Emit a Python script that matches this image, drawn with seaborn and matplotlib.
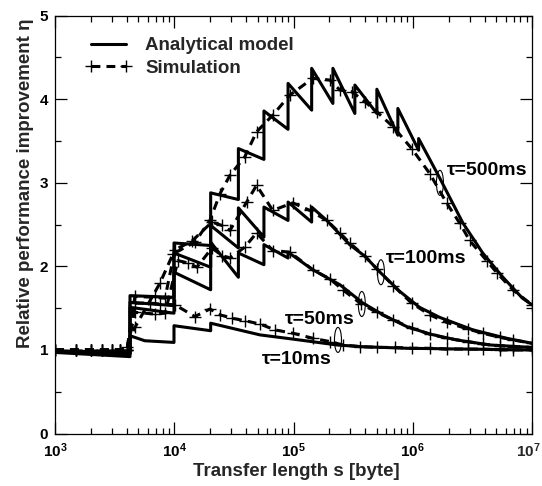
import matplotlib
matplotlib.use("Agg")
import matplotlib.pyplot as plt
import matplotlib.ticker as mticker
from matplotlib.lines import Line2D
from matplotlib.patches import Ellipse
from matplotlib.transforms import ScaledTranslation
import seaborn as sns

# ---------------- data ----------------
# Analytical model (solid sawtooth curves); repeated s = vertical jump
a10_s = [1000, 4255, 4255, 5660, 9950, 9950, 20200, 20200, 52400, 98600, 230000, 361000, 889000, 1e7]
a10_eta = [0.99, 0.97, 1.17, 1.11, 1.09, 1.29, 1.23, 1.32, 1.18, 1.13, 1.06, 1.04, 1.02, 1.00]

a50_s = [1000, 4255, 4255, 9950, 9950, 20200, 20200, 34500, 34500, 56500, 56500, 90000, 90000,
         145000, 245000, 383000, 564000, 889000, 1.39e6, 2.33e6, 4.4e6, 1e7]
a50_eta = [0.98, 0.96, 1.51, 1.44, 1.93, 1.72, 2.29, 1.87, 2.16, 2.02, 2.26, 2.10, 2.17,
           1.96, 1.78, 1.56, 1.42, 1.28, 1.19, 1.12, 1.06, 1.03]

a100_s = [1000, 4255, 4255, 9950, 9950, 20200, 20200, 34500, 34500, 56500, 56500, 90000, 90000,
          142000, 142000, 190000, 296000, 398000, 532000, 779000, 1.14e6, 1.68e6, 3.2e6, 6.1e6, 1e7]
a100_eta = [0.98, 0.95, 1.57, 1.53, 2.16, 1.99, 2.49, 2.22, 2.70, 2.35, 2.71, 2.55, 2.77,
            2.53, 2.71, 2.55, 2.26, 2.12, 1.93, 1.70, 1.51, 1.39, 1.24, 1.14, 1.08]

a500_s = [1000, 4255, 4255, 9950, 9950, 20200, 20200, 34500, 34500, 56500, 56500, 90000, 90000,
          142000, 142000, 214000, 214000, 327000, 327000, 500000, 500000, 750000, 750000,
          1.12e6, 1.12e6, 1.68e6, 2.63e6, 3.86e6, 5.7e6, 8.3e6, 1e7]
a500_eta = [0.97, 0.92, 1.65, 1.63, 2.28, 2.25, 2.88, 2.80, 3.41, 3.28, 3.86, 3.64, 4.19,
            3.87, 4.37, 3.95, 4.37, 3.83, 4.17, 3.83, 4.12, 3.57, 3.89,
            3.39, 3.53, 3.06, 2.52, 2.16, 1.87, 1.62, 1.54]

# Simulation (dashed with + markers)
s10_s = [1000, 1500, 2000, 2500, 3000, 3500, 4010, 4680, 6250, 7590, 10140, 14900, 19900, 24200,
         30300, 39000, 52400, 69800, 98600, 145000, 202000, 259000, 361000, 500000, 710000,
         980000, 1.39e6, 1.92e6, 2.9e6, 3.86e6, 5.4e6, 6.9e6, 1e7]
s10_eta = [1.0, 1.0, 1.0, 1.0, 1.0, 1.0, 1.0, 1.56, 1.56, 1.55, 1.54, 1.40, 1.49, 1.42,
           1.38, 1.35, 1.31, 1.24, 1.20, 1.14, 1.10, 1.06, 1.04, 1.03, 1.03,
           1.02, 1.02, 1.01, 1.01, 1.01, 1.0, 1.0, 1.0]

s50_s = [1000, 1500, 2000, 2500, 3000, 3500, 4010, 4680, 6880, 8370, 10740, 13020, 15500, 20700,
         25100, 29300, 39000, 49000, 67000, 93200, 145000, 202000, 259000, 370000, 500000,
         685000, 980000, 1.39e6, 1.92e6, 2.9e6, 3.86e6, 5.4e6, 6.9e6, 1e7]
s50_eta = [1.0, 1.0, 1.0, 1.0, 1.0, 1.0, 1.0, 1.45, 1.43, 1.44, 2.07, 2.04, 1.99, 2.22,
           2.13, 2.10, 2.23, 2.40, 2.19, 2.17, 1.96, 1.85, 1.72, 1.55, 1.45,
           1.36, 1.26, 1.19, 1.14, 1.10, 1.07, 1.05, 1.04, 1.03]

s100_s = [1000, 1500, 2000, 2500, 3000, 3500, 4010, 4680, 6880, 8370, 10140, 14000, 20700, 25100,
          29300, 40500, 49000, 67000, 98600, 137000, 190000, 245000, 296000, 398000, 500000,
          685000, 980000, 1.39e6, 1.92e6, 2.9e6, 3.86e6, 5.4e6, 6.9e6, 1e7]
s100_eta = [1.0, 1.0, 1.0, 1.0, 1.0, 1.0, 1.0, 1.64, 1.63, 1.62, 2.20, 2.30, 2.53, 2.49,
            2.43, 2.77, 2.97, 2.67, 2.76, 2.67, 2.55, 2.40, 2.28, 2.12, 1.97,
            1.77, 1.56, 1.42, 1.33, 1.25, 1.20, 1.15, 1.12, 1.08]

s500_s = [1000, 1500, 2000, 2500, 3000, 3500, 4010, 4680, 7590, 9770, 14900, 19900, 24200, 29300,
          39000, 49000, 67000, 93200, 145000, 202000, 245000, 308000, 398000, 500000, 685000,
          980000, 1.39e6, 1.92e6, 2.47e6, 3.0e6, 4.16e6, 5.1e6, 6.9e6, 1e7]
s500_eta = [1.0, 1.0, 1.0, 1.0, 1.0, 1.0, 1.03, 1.27, 1.80, 2.15, 2.29, 2.55, 2.87, 3.09,
            3.31, 3.61, 3.81, 4.05, 4.25, 4.23, 4.11, 4.09, 3.97, 3.85, 3.67,
            3.41, 3.11, 2.76, 2.52, 2.31, 2.07, 1.92, 1.72, 1.54]

# curve labels and their positions (s, eta) + ellipse positions
tau_labels = ["τ=10ms", "τ=50ms", "τ=100ms", "τ=500ms"]
label_s = [1.07e5, 1.66e5, 1.29e6, 4.18e6]
label_eta = [0.88, 1.37, 2.09, 3.15]
ellipse_s = [2.36e5, 3.74e5, 5.41e5, 1.69e6]
ellipse_eta = [1.12, 1.55, 1.93, 3.00]

xtick_vals = [1e3, 1e4, 1e5, 1e6, 1e7]
xtick_labels = [r"$\mathbf{10^{3}}$", r"$\mathbf{10^{4}}$", r"$\mathbf{10^{5}}$",
                r"$\mathbf{10^{6}}$", r"$\mathbf{10^{7}}$"]
ytick_vals = [0, 1, 2, 3, 4, 5]
legend_labels = ["Analytical model", "Simulation"]

# ---------------- style ----------------
sns.set_style("ticks")
plt.rcParams["font.family"] = ["Liberation Sans", "DejaVu Sans"]
plt.rcParams["font.weight"] = "bold"
plt.rcParams["mathtext.fontset"] = "custom"
plt.rcParams["mathtext.rm"] = "Liberation Sans:bold"
plt.rcParams["mathtext.bf"] = "Liberation Sans:bold"
plt.rcParams["mathtext.it"] = "Liberation Sans:bold"

fig = plt.figure(figsize=(5.42, 4.86), dpi=100)
ax = fig.add_axes([55 / 542, 1 - 433.5 / 486, 477 / 542, 417.8 / 486])
ax.set_xscale("log")

LW = 2.2
DASH = (0, (2.9, 2.0))

for s, e in [(a10_s, a10_eta), (a50_s, a50_eta), (a100_s, a100_eta), (a500_s, a500_eta)]:
    sns.lineplot(x=s, y=e, sort=False, estimator=None, color="k", linewidth=LW, ax=ax)

for s, e in [(s10_s, s10_eta), (s50_s, s50_eta), (s100_s, s100_eta), (s500_s, s500_eta)]:
    sns.lineplot(x=s, y=e, sort=False, estimator=None, color="k", linewidth=LW,
                 linestyle=DASH, marker="+", markersize=9, markeredgewidth=1.0,
                 markeredgecolor="k", ax=ax)

ax.set_xlim(1e3, 1e7)
ax.set_ylim(0, 5)
ax.set_xticks(xtick_vals)
# last label is drawn separately so it stays inside the figure edge
ax.set_xticklabels(xtick_labels[:-1] + [""])
ax.xaxis.set_minor_locator(mticker.LogLocator(base=10, subs=range(2, 10), numticks=50))
ax.xaxis.set_minor_formatter(mticker.NullFormatter())
ax.set_yticks(ytick_vals)
ax.set_yticklabels([str(v) for v in ytick_vals])
ax.yaxis.set_minor_locator(mticker.MultipleLocator(0.5))

ax.tick_params(which="both", direction="in", top=True, right=True, colors="k",
               width=0.9, labelsize=11)
ax.tick_params(axis="x", which="major", pad=6)
ax.tick_params(axis="y", which="major", pad=5)
ax.tick_params(which="major", length=8.5)
ax.tick_params(which="minor", length=4.5)
for sp in ax.spines.values():
    sp.set_linewidth(0.9)
    sp.set_color("k")

ax.annotate(xtick_labels[-1], xy=(xtick_vals[-1], 0), xycoords="data",
            xytext=(6.0, -6.0), textcoords="offset points",
            ha="right", va="top", fontsize=11, annotation_clip=False)

ax.set_xlabel("Transfer length s [byte]", fontsize=13.5, fontweight="bold")
ax.set_ylabel("Relative performance improvement η", fontsize=13.5, fontweight="bold")
ax.xaxis.set_label_coords(0.506, -0.07)
ax.yaxis.set_label_coords(-0.044, 0.60)

for lab, ls_, le_, es, ee in zip(tau_labels, label_s, label_eta, ellipse_s, ellipse_eta):
    ax.text(ls_, le_, lab, ha="center", va="center", fontsize=14, fontweight="bold", color="k")
    tr = fig.dpi_scale_trans + ScaledTranslation(es, ee, ax.transData)
    ax.add_patch(Ellipse((0, 0), 0.07, 0.25, transform=tr, fill=False, ec="k", lw=0.8))

handles = [Line2D([], [], color="k", lw=LW),
           Line2D([], [], color="k", lw=LW, ls=DASH, marker="+", ms=9, mew=1.0)]
ax.legend(handles, legend_labels, loc="upper left", bbox_to_anchor=(0.063, 0.949),
          frameon=False, borderaxespad=0, borderpad=0, handlelength=2.5,
          handletextpad=0.7, labelspacing=0.3, numpoints=2,
          prop={"size": 13.5, "weight": "bold"})

fig.savefig("out.png", dpi=100)
